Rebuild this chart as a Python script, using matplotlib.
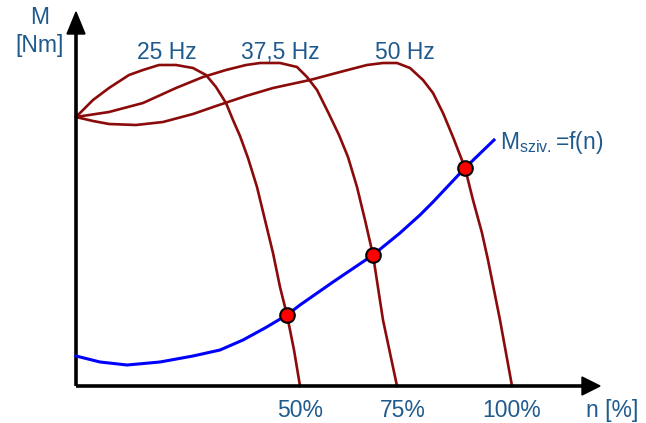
import matplotlib.pyplot as plt
from matplotlib.patches import Polygon

# chart units: x = speed axis (0 at origin), y = torque (0 at origin)
m25_x = [0, 17, 33, 53, 67, 83, 100, 117, 130, 140, 150, 157, 164, 172, 181, 189, 197, 204, 211, 218, 224]
m25_y = [269, 286, 298, 311, 316, 321, 321, 318, 311, 299, 283, 266, 250, 228, 199, 166, 133, 99, 71, 36, 0]

m37_x = [0, 33, 67, 100, 127, 150, 170, 184, 204, 221, 231, 241, 252, 263, 272, 281, 289, 297, 307, 321]
m37_y = [269, 274, 283, 298, 309, 316, 321, 323, 323, 319, 309, 296, 274, 251, 229, 199, 166, 131, 66, 0]

m50_x = [0, 17, 33, 60, 87, 117, 143, 170, 197, 234, 264, 291, 307, 321, 334, 347, 357, 367, 377,
         389, 397, 406, 412, 424, 436]
m50_y = [269, 265, 262, 261, 264, 272, 281, 290, 298, 306, 314, 321, 323, 323, 318, 306, 293, 273, 249,
         218, 186, 153, 126, 66, 0]

load_x = [0, 24, 51, 84, 117, 144, 167, 189, 211, 224, 257, 297, 324, 344, 357, 389, 418]
load_y = [30, 24, 21, 24, 30, 36, 46, 58, 71, 81, 104, 131, 153, 171, 184, 218, 246]

# operating points (intersections)
op_x = [211, 297, 389]
op_y = [71, 131, 218]

freq_labels = ["25 Hz", "37,5 Hz", "50 Hz"]
freq_label_x = [91, 204, 329]
speed_ticks = ["50%", "75%", "100%"]
speed_tick_x = [224, 327, 436]

maroon = "#8B0A0A"
text_c = "#1F5A8E"
plt.rcParams["font.family"] = ["Liberation Sans", "DejaVu Sans"]

fig = plt.figure(figsize=(6.46, 4.23), dpi=100)
ax = fig.add_axes([0, 0, 1, 1])
ax.set_xlim(-76, 570)
ax.set_ylim(-37, 386)
ax.axis("off")

# axes with arrow heads
ax.plot([0, 512], [0, 0], color="black", lw=2.6, solid_capstyle="butt", zorder=3)
ax.plot([0, 0], [0, 355], color="black", lw=2.6, solid_capstyle="butt", zorder=3)
ax.add_patch(Polygon([[524, 0], [506, 9], [506, -9]], closed=True, color="black", zorder=3))
ax.add_patch(Polygon([[0, 374], [-9, 352], [9, 352]], closed=True, color="black", zorder=3))

for xs, ys in [(m25_x, m25_y), (m37_x, m37_y), (m50_x, m50_y)]:
    ax.plot(xs, ys, color=maroon, lw=1.9, zorder=2, solid_joinstyle="round")
ax.plot(load_x, load_y, color="#0000FF", lw=2.2, zorder=4, solid_joinstyle="round")
ax.scatter(op_x, op_y, s=110, color="#FF0000", edgecolor="black", linewidth=1.5, zorder=5)

fs = 16.5
for lab, x in zip(freq_labels, freq_label_x):
    ax.text(x, 334, lab, color=text_c, fontsize=fs, ha="center", va="center")
for lab, x in zip(speed_ticks, speed_tick_x):
    ax.text(x, -24, lab, color=text_c, fontsize=fs, ha="center", va="center")
ax.text(536, -24, "n [%]", color=text_c, fontsize=fs, ha="center", va="center")
ax.text(-36, 369, "M", color=text_c, fontsize=fs, ha="center", va="center")
ax.text(-36, 341, "[Nm]", color=text_c, fontsize=fs, ha="center", va="center")
ax.text(424, 244, r"M$_{\mathregular{sziv.}}$=f(n)", color=text_c, fontsize=fs,
        ha="left", va="center")

fig.savefig("out.png", dpi=100)
